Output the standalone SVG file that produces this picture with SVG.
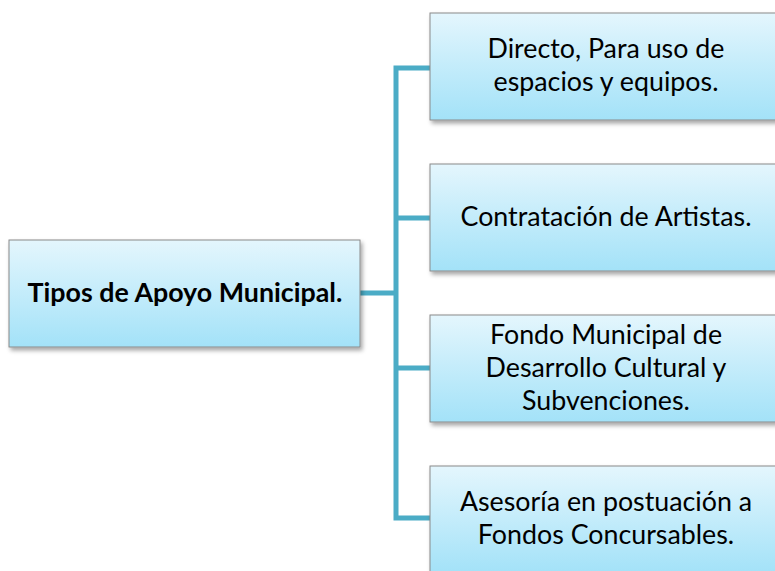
<svg xmlns="http://www.w3.org/2000/svg" width="775" height="571" viewBox="0 0 775 571">
<defs>
<linearGradient id="g" x1="0" y1="0" x2="0" y2="1">
<stop offset="0" stop-color="#e4f6fd"/>
<stop offset="1" stop-color="#a3e2f8"/>
</linearGradient>
<filter id="sh" x="-10%" y="-10%" width="120%" height="130%">
<feDropShadow dx="2" dy="3" stdDeviation="2" flood-color="#000" flood-opacity="0.35"/>
</filter>
</defs>
<style>
.box{fill:url(#g);stroke:#8a8a8a;stroke-width:1;filter:url(#sh)}
.t{font-family:Lato,"Open Sans","Liberation Sans",Arial,sans-serif;font-size:26.8px;fill:#000;text-anchor:middle}
.b{font-weight:bold;font-size:26.8px}
.c{fill:none;stroke:#4bacc6;stroke-width:5;stroke-linejoin:miter}
</style>
<g id="connectors">
<path class="c" d="M360 293 H396"/>
<path class="c" d="M430 68 H396 V518 H430"/>
<path class="c" d="M396 218 H430"/>
<path class="c" d="M396 368 H430"/>
</g>
<g id="root">
<rect class="box" x="9" y="240" width="351" height="107"/>
<text class="t b" x="185" y="302">Tipos de Apoyo Municipal.</text>
</g>
<g id="n1">
<rect class="box" x="430" y="13" width="352" height="107"/>
<text class="t" x="606" y="58">Directo, Para uso de</text>
<text class="t" x="606" y="91">espacios y equipos.</text>
</g>
<g id="n2">
<rect class="box" x="430" y="164" width="352" height="107"/>
<text class="t" x="606" y="226">Contratación de Artistas.</text>
</g>
<g id="n3">
<rect class="box" x="430" y="315" width="352" height="107"/>
<text class="t" x="606" y="344">Fondo Municipal de</text>
<text class="t" x="606" y="377">Desarrollo Cultural y</text>
<text class="t" x="606" y="410">Subvenciones.</text>
</g>
<g id="n4">
<rect class="box" x="430" y="466" width="352" height="107"/>
<text class="t" x="606" y="511">Asesoría en postuación a</text>
<text class="t" x="606" y="544">Fondos Concursables.</text>
</g>
</svg>
